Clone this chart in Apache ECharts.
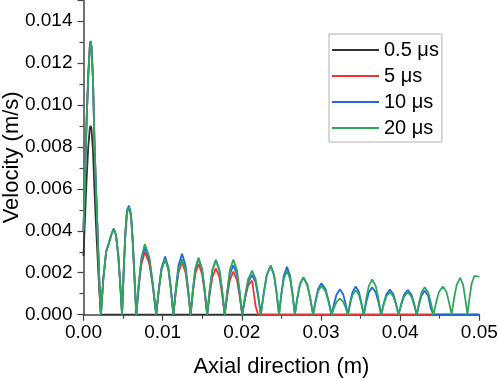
<!DOCTYPE html>
<html>
<head>
<meta charset="utf-8">
<title>Velocity vs axial direction</title>
<script src="https://cdn.jsdelivr.net/npm/echarts@6/dist/echarts.min.js"></script>
<style>
    html, body { margin: 0; padding: 0; background: #fff; }
    #chart { width: 498px; height: 379px; }
</style>
</head>
<body>
<div id="chart"></div>
<script>
// axial positions (m), one row per arch
var axialPos = [
    0, 0.0002, 0.0004, 0.0006, 0.0008, 0.0009, 0.0010, 0.0012, 0.0014, 0.0016, 0.0018, 0.0020, 0.0022,
    0.0025, 0.00286, 0.0032, 0.0035, 0.00383, 0.0041, 0.0044, 0.0047, 0.00487,
    0.0051, 0.0053, 0.0055, 0.00575, 0.0060, 0.0062, 0.0064, 0.00667,
    0.00699, 0.00732, 0.00775, 0.00832, 0.00875, 0.00918,
    0.00952, 0.00986, 0.01031, 0.01073, 0.01104, 0.01135,
    0.01168, 0.01201, 0.01245, 0.01288, 0.0132, 0.01353,
    0.01383, 0.01413, 0.01453, 0.01497, 0.0153, 0.01562,
    0.01595, 0.01628, 0.01672, 0.01717, 0.0175, 0.01784,
    0.01817, 0.01849, 0.01893, 0.01938, 0.01971, 0.02005,
    0.02043, 0.0208, 0.0213, 0.02174, 0.02207, 0.0224,
    0.02278, 0.02315, 0.02365, 0.02407, 0.02439, 0.0247,
    0.025, 0.0253, 0.0257, 0.0261, 0.0264, 0.0267,
    0.02702, 0.02734, 0.02777, 0.02826, 0.02863, 0.029,
    0.02932, 0.02963, 0.03005, 0.03057, 0.03095, 0.03134,
    0.03166, 0.03198, 0.0324, 0.0328, 0.0331, 0.0334,
    0.03369, 0.03399, 0.03438, 0.03479, 0.03509, 0.0354,
    0.03572, 0.03604, 0.03647, 0.03692, 0.03726, 0.0376,
    0.03793, 0.03826, 0.0387, 0.03914, 0.03947, 0.0398,
    0.04015, 0.0405, 0.04097, 0.04142, 0.04176, 0.0421,
    0.0424, 0.0427, 0.0431, 0.04354, 0.04387, 0.0442,
    0.04456, 0.04492, 0.0454, 0.04584, 0.04617, 0.0465,
    0.04682, 0.04715, 0.04758, 0.04795, 0.04822, 0.0485,
    0.04877, 0.04904, 0.0494, 0.05
];

// velocity (m/s) at 20 us - covers the whole length
var vel20 = [
    0.0040, 0.0068, 0.0093, 0.0114, 0.0128, 0.0130, 0.0128, 0.0112, 0.0080, 0.0058, 0.0037, 0.0016, 0,
    0.0017, 0.0030, 0.0034, 0.0038, 0.0041, 0.0038, 0.0028, 0.0011, 0,
    0.0023, 0.0039, 0.0049, 0.00513, 0.0047, 0.0036, 0.0021, 0,
    0.00152, 0.00273, 0.00337, 0.00273, 0.00152, 0,
    0.0012, 0.00215, 0.00266, 0.00215, 0.0012, 0,
    0.00119, 0.00215, 0.00265, 0.00215, 0.00119, 0,
    0.00122, 0.0022, 0.00272, 0.0022, 0.00122, 0,
    0.00117, 0.00211, 0.00261, 0.00211, 0.00117, 0,
    0.00118, 0.00213, 0.00263, 0.00213, 0.00118, 0,
    0.00095, 0.0017, 0.0021, 0.0017, 0.00095, 0,
    0.00104, 0.00188, 0.00232, 0.00188, 0.00104, 0,
    0.00095, 0.0017, 0.0021, 0.0017, 0.00095, 0,
    0.00081, 0.00145, 0.00179, 0.00145, 0.00081, 0,
    0.00062, 0.00112, 0.00138, 0.00112, 0.00062, 0,
    0.00035, 0.00062, 0.00077, 0.00062, 0.00035, 0,
    0.00053, 0.00095, 0.00117, 0.00095, 0.00053, 0,
    0.00076, 0.00136, 0.00168, 0.00136, 0.00076, 0,
    0.00049, 0.00087, 0.00108, 0.00087, 0.00049, 0,
    0.00048, 0.00087, 0.00107, 0.00087, 0.00048, 0,
    0.00059, 0.00106, 0.00131, 0.00106, 0.00059, 0,
    0.0006, 0.00109, 0.00134, 0.00109, 0.0006, 0,
    0.00079, 0.00143, 0.00176, 0.00143, 0.00079, 0,
    0.00083, 0.0015, 0.00185, 0.0018
];

// 10 us - zero after 0.0442 m
var vel10 = [
    0.0040, 0.0068, 0.0093, 0.0114, 0.0128, 0.01305, 0.0128, 0.0112, 0.0080, 0.0058, 0.0037, 0.0016, 0,
    0.0017, 0.0030, 0.0034, 0.0038, 0.0041, 0.0038, 0.0028, 0.0011, 0,
    0.0023, 0.0040, 0.0050, 0.0052, 0.0048, 0.0037, 0.0021, 0,
    0.00146, 0.00261, 0.00322, 0.00261, 0.00146, 0,
    0.00125, 0.00224, 0.00277, 0.00224, 0.00125, 0,
    0.00131, 0.00236, 0.00291, 0.00236, 0.00131, 0,
    0.00121, 0.00217, 0.00268, 0.00217, 0.00121, 0,
    0.00118, 0.00212, 0.00262, 0.00212, 0.00118, 0,
    0.00107, 0.00192, 0.00237, 0.00192, 0.00107, 0,
    0.00086, 0.00154, 0.0019, 0.00154, 0.00086, 0,
    0.00105, 0.0019, 0.00234, 0.0019, 0.00105, 0,
    0.00103, 0.00185, 0.00228, 0.00185, 0.00103, 0,
    0.0008, 0.00143, 0.00177, 0.00143, 0.0008, 0,
    0.00068, 0.00122, 0.0015, 0.00122, 0.00068, 0,
    0.00054, 0.00098, 0.00121, 0.00098, 0.00054, 0,
    0.0006, 0.00109, 0.00134, 0.00109, 0.0006, 0,
    0.00059, 0.00106, 0.00131, 0.00106, 0.00059, 0,
    0.00054, 0.00097, 0.0012, 0.00097, 0.00054, 0,
    0.00053, 0.00096, 0.00118, 0.00096, 0.00053, 0,
    0.00051, 0.00092, 0.00114, 0.0009, 0.0003, 0
];

// 5 us - zero after 0.0224 m
var vel5 = [
    0.0040, 0.0068, 0.0093, 0.0114, 0.0128, 0.0130, 0.0128, 0.0112, 0.0080, 0.0058, 0.0037, 0.0016, 0,
    0.0017, 0.0030, 0.0034, 0.0038, 0.0041, 0.0038, 0.0028, 0.0011, 0,
    0.0023, 0.0039, 0.0049, 0.0051, 0.0047, 0.0036, 0.0021, 0,
    0.00136, 0.00242, 0.00299, 0.00242, 0.00136, 0,
    0.00119, 0.00215, 0.00265, 0.00215, 0.00119, 0,
    0.00113, 0.00203, 0.0025, 0.00203, 0.00113, 0,
    0.00109, 0.00196, 0.00242, 0.00196, 0.00109, 0,
    0.00099, 0.00179, 0.00221, 0.00179, 0.00099, 0,
    0.00092, 0.00166, 0.00205, 0.00166, 0.00092, 0,
    0.0008, 0.0014, 0.00163, 0.0004, 0, 0
];

// 0.5 us - zero after 0.0022 m
var vel05 = [
    0.0028, 0.0047, 0.0065, 0.0080, 0.0089, 0.0090, 0.0089, 0.0078, 0.0058, 0.0041, 0.0026, 0.0011, 0
];

var seriesNames = ["0.5 μs", "5 μs", "10 μs", "20 μs"];
var seriesColors = ["#333333", "#ee3535", "#1f68e0", "#30a65a"];
var xTicks = { min: 0, max: 0.05, step: 0.01 };
var yTicks = { min: 0, max: 0.015, step: 0.002 };

var FONT = "'Liberation Sans', Arial, sans-serif";

// pair up with positions; the curve stays on zero until the end of the domain
function toPairs(vals) {
    var pts = [];
    for (var i = 0; i < vals.length; ++i) {
        pts.push([axialPos[i], vals[i]]);
    }
    if (vals.length < axialPos.length) {
        pts.push([axialPos[axialPos.length - 1], 0]);
    }
    return pts;
}

var allVals = [vel05, vel5, vel10, vel20];
var ser = [];
for (var i = 0; i < allVals.length; ++i) {
    ser.push({
        name: seriesNames[i],
        type: 'line',
        data: toPairs(allVals[i]),
        showSymbol: false,
        symbol: 'none',
        smooth: false,
        animation: false,
        color: seriesColors[i],
        lineStyle: { width: 1.8, color: seriesColors[i] }
    });
}

var chart = echarts.init(document.getElementById('chart'), null, { renderer: 'canvas' });
var option = {
    animation: false,
    backgroundColor: '#ffffff',
    textStyle: { fontFamily: FONT },
    grid: {
        left: 83.5,
        right: 18.7,
        top: 0,
        bottom: 64.3,
        containLabel: false,
        outerBoundsMode: 'none'
    },
    legend: {
        orient: 'vertical',
        left: 329,
        top: 34,
        data: seriesNames,
        icon: 'rect',
        itemWidth: 47,
        itemHeight: 2,
        itemGap: 6,
        padding: [6, 3, 4, 3],
        borderColor: '#b0b0b0',
        borderWidth: 1,
        borderRadius: 0,
        selectedMode: false,
        textStyle: { fontFamily: FONT, fontSize: 20, color: '#000', lineHeight: 19 }
    },
    xAxis: {
        type: 'value',
        min: xTicks.min,
        max: xTicks.max,
        interval: xTicks.step,
        name: 'Axial direction (m)',
        nameLocation: 'middle',
        nameGap: 41,
        nameMoveOverlap: false,
        nameTextStyle: { fontFamily: FONT, fontSize: 22, color: '#000' },
        axisLine: { show: true, lineStyle: { color: '#444', width: 1.5 } },
        axisTick: { show: true, length: 6, lineStyle: { color: '#444', width: 1.2 } },
        minorTick: { show: true, splitNumber: 2, length: 4, lineStyle: { color: '#444', width: 1.2 } },
        splitLine: { show: false },
        axisLabel: {
            fontFamily: FONT, fontSize: 19, color: '#000', margin: 9,
            formatter: function (v) { return v.toFixed(2); }
        }
    },
    yAxis: {
        type: 'value',
        min: yTicks.min,
        max: yTicks.max,
        interval: yTicks.step,
        name: 'Velocity (m/s)',
        nameLocation: 'middle',
        nameGap: 61,
        nameMoveOverlap: false,
        nameTextStyle: { fontFamily: FONT, fontSize: 22, color: '#000' },
        axisLine: { show: true, lineStyle: { color: '#444', width: 1.5 } },
        axisTick: { show: true, length: 6, lineStyle: { color: '#444', width: 1.2 } },
        minorTick: { show: true, splitNumber: 2, length: 4, lineStyle: { color: '#444', width: 1.2 } },
        splitLine: { show: false },
        axisLabel: {
            fontFamily: FONT, fontSize: 19, color: '#000', margin: 11,
            showMaxLabel: false,
            formatter: function (v) { return v.toFixed(3); }
        }
    },
    series: ser
};
chart.setOption(option);
</script>
</body>
</html>
